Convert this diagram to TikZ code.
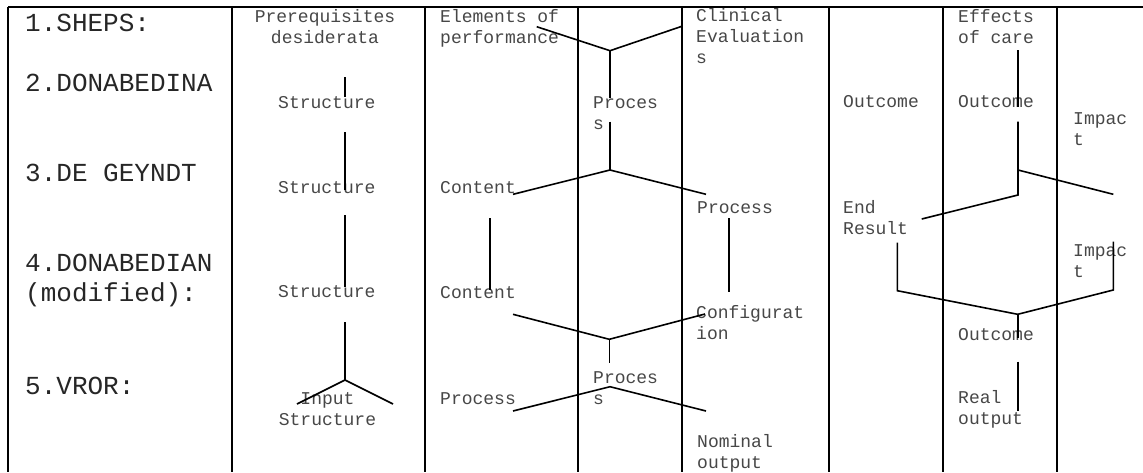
\documentclass[tikz,border=0pt]{standalone}
\usepackage{fontspec}
\newfontfamily\monofont{Liberation Mono}
% stacked lines of a cell, baseline on the first line
\newcommand\cellL[1]{\begin{tabular}[t]{@{}l@{}}#1\end{tabular}}
\newcommand\cellC[1]{\begin{tabular}[t]{@{}c@{}}#1\end{tabular}}
\tikzset{
  gridline/.style={line width=2pt, line cap=butt},
  link/.style={line width=1.6pt, line cap=butt, line join=miter},
  rowlabel/.style={font=\monofont\fontsize{26}{30}\selectfont, text=black!85,
    anchor=base west, inner sep=0pt},
  cell/.style={font=\monofont\fontsize{18}{21}\selectfont, text=black!72,
    anchor=base west, inner sep=0pt},
  cellmid/.style={cell, anchor=base},
}
\begin{document}
\begin{tikzpicture}[x=1pt, y=-1pt]
\useasboundingbox (0,0) rectangle (1143,472);

% table frame
\draw[gridline] (8,7) -- (1143,7);
\foreach \cx in {8,232,425,578.3,681.7,829,943.3,1056.7}
  \draw[gridline] (\cx,7) -- (\cx,472);

% row labels
\node[rowlabel] (r1) at (25,31)  {1.SHEPS:};
\node[rowlabel] (r2) at (25,91)  {2.DONABEDINA};
\node[rowlabel] (r3) at (25,181) {3.DE GEYNDT};
\node[rowlabel] (r4) at (25,271) {\begin{tabular}[t]{@{}l@{}}4.DONABEDIAN\\(modified):\end{tabular}};
\node[rowlabel] (r5) at (25,394) {5.VROR:};

% cell texts
\node[cellmid] (prereq)  at (325,22)   {\cellC{Prerequisites\\desiderata}};
\node[cell]    (struct2) at (278,108)  {Structure};
\node[cell]    (struct3) at (278,193)  {Structure};
\node[cell]    (struct4) at (278,297)  {Structure};
\node[cellmid] (input5)  at (327.5,404) {\cellC{Input\\Structure}};

\node[cell] (elements) at (440,22)  {\cellL{Elements of\\performance}};
\node[cell] (proces2)  at (593,108) {\cellL{Proces\\s}};
\node[cell] (content3) at (440,193) {Content};
\node[cell] (content4) at (440,298) {Content};
\node[cell] (process5) at (440,404) {Process};
\node[cell] (proces5)  at (593,383) {\cellL{Proces\\s}};

\node[cell] (clinical) at (696,21)  {\cellL{Clinical\\Evaluation\\s}};
\node[cell] (process3) at (697,213) {Process};
\node[cell] (config4)  at (696,318) {\cellL{Configurat\\ion}};
\node[cell] (nominal5) at (697,447) {\cellL{Nominal\\output}};

\node[cell] (outcomeA) at (843,107) {Outcome};
\node[cell] (endres)   at (843,213) {\cellL{End\\Result}};

\node[cell] (effects)  at (958,22)  {\cellL{Effects\\of care}};
\node[cell] (outcomeB) at (958,107) {Outcome};
\node[cell] (outcomeC) at (958,340) {Outcome};
\node[cell] (real5)    at (958,403) {\cellL{Real\\output}};

\node[cell] (impact2)  at (1073,124) {\cellL{Impac\\t}};
\node[cell] (impact4)  at (1073,256) {\cellL{Impac\\t}};

% connector end points and junctions
\coordinate (s1a) at (345,77);    \coordinate (s1b) at (345,97);
\coordinate (s2a) at (345,132);   \coordinate (s2b) at (345,190);
\coordinate (s3a) at (345,215);   \coordinate (s3b) at (345,287);
\coordinate (s4a) at (345,322);   \coordinate (s4j) at (345,380);
\coordinate (s5l) at (297,404);   \coordinate (s5r) at (393,404);

\coordinate (y1l) at (536.7,26.7); \coordinate (y1j) at (610,50.7);
\coordinate (y1r) at (682.7,26);   \coordinate (y1d) at (610,98.3);
\coordinate (y2a) at (610,121.7);  \coordinate (y2j) at (610,170);
\coordinate (y2l) at (513,194.3);  \coordinate (y2r) at (706,194.3);
\coordinate (c3a) at (490,218);    \coordinate (c3b) at (490,290);
\coordinate (p3a) at (729,218);    \coordinate (p3b) at (729,291.7);
\coordinate (y4l) at (513,314.3);  \coordinate (y4j) at (609.3,339.3);
\coordinate (y4r) at (705,314);    \coordinate (y4d) at (609.3,362.7);
\coordinate (v5l) at (513,411);    \coordinate (v5j) at (610,386.7);
\coordinate (v5r) at (706,411);

\coordinate (e1a) at (1018,50);    \coordinate (e1b) at (1018,106.7);
\coordinate (e2a) at (1018,121.7); \coordinate (e2k) at (1018,195);
\coordinate (e2l) at (921.7,219);
\coordinate (e2j) at (1018,170);   \coordinate (e2r) at (1113.3,194.3);
\coordinate (u4l) at (897.3,242.7); \coordinate (u4k) at (897.3,290.7);
\coordinate (u4j) at (1017.7,314.3);
\coordinate (u4m) at (1113.3,290);  \coordinate (u4r) at (1113.3,241.7);
\coordinate (u4d) at (1017.7,338);
\coordinate (o5a) at (1017.7,361.7); \coordinate (o5b) at (1017.7,411);

% connectors
\draw[link] (s1a) -- (s1b);
\draw[link] (s2a) -- (s2b);
\draw[link] (s3a) -- (s3b);
\draw[link] (s4a) -- (s4j);
\draw[link] (s5l) -- (s4j) -- (s5r);

\draw[link] (y1l) -- (y1j) -- (y1r);
\draw[link] (y1j) -- (y1d);
\draw[link] (y2a) -- (y2j);
\draw[link] (y2l) -- (y2j) -- (y2r);
\draw[link] (c3a) -- (c3b);
\draw[link] (p3a) -- (p3b);
\draw[link] (y4l) -- (y4j) -- (y4r);
\draw[link] (y4j) -- (y4d);
\draw[link] (v5l) -- (v5j) -- (v5r);

\draw[link] (e1a) -- (e1b);
\draw[link] (e2a) -- (e2k) -- (e2l);
\draw[link] (e2j) -- (e2r);
\draw[link] (u4l) -- (u4k) -- (u4j) -- (u4m) -- (u4r);
\draw[link] (u4j) -- (u4d);
\draw[link] (o5a) -- (o5b);
\end{tikzpicture}
\end{document}
